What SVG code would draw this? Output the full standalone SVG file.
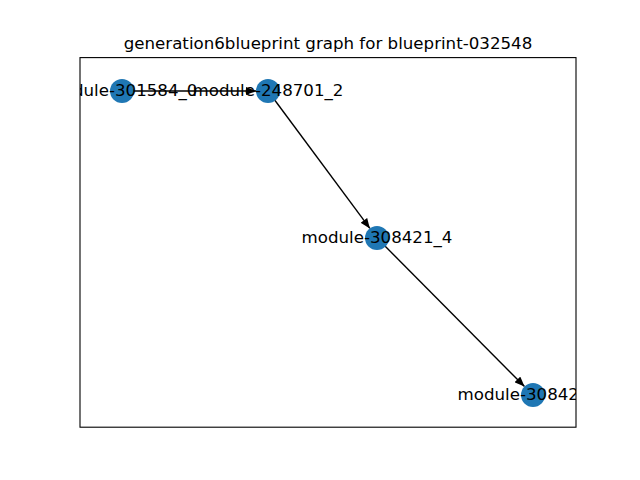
<svg xmlns="http://www.w3.org/2000/svg" width="640" height="480" viewBox="0 0 640 480">
<style>
.node circle{fill:#1f77b4;}
.node text{font-family:"DejaVu Sans",sans-serif;font-size:16.67px;fill:#000;text-anchor:middle;dominant-baseline:central;}
.edge{stroke:#000;stroke-width:1.4;fill:none;}
.title{font-family:"DejaVu Sans",sans-serif;font-size:16.67px;fill:#000;text-anchor:middle;}
</style>
<defs>
<clipPath id="ax"><rect x="80" y="57.6" width="496" height="369.6"/></clipPath>
<marker id="arr" viewBox="0 0 10 8" refX="10" refY="4" markerWidth="10" markerHeight="8" markerUnits="userSpaceOnUse" orient="auto">
<path d="M0,0 L10,4 L0,8 Z" fill="#000"/>
</marker>
</defs>
<rect width="640" height="480" fill="#fff"/>
<text class="title" x="328" y="49">generation6blueprint graph for blueprint-032548</text>
<g clip-path="url(#ax)">
<g id="connectors">
<line class="edge" x1="122" y1="91" x2="256" y2="91" marker-end="url(#arr)"/>
<line class="edge" x1="268" y1="91" x2="369.9" y2="228.4" marker-end="url(#arr)"/>
<line class="edge" x1="377" y1="238" x2="524.5" y2="386.5" marker-end="url(#arr)"/>
</g>
<g id="node-301584_0" class="node"><circle cx="122" cy="91" r="12"/><text x="122" y="90">module-301584_0</text></g>
<g id="node-248701_2" class="node"><circle cx="268" cy="91" r="12"/><text x="268" y="90">module-248701_2</text></g>
<g id="node-308421_4" class="node"><circle cx="377" cy="238" r="12"/><text x="377" y="237">module-308421_4</text></g>
<g id="node-308421_6" class="node"><circle cx="533" cy="395" r="12"/><text x="533" y="394">module-308421_6</text></g>
</g>
<rect x="80" y="57.6" width="496" height="369.6" fill="none" stroke="#000" stroke-width="1.1"/>
</svg>
